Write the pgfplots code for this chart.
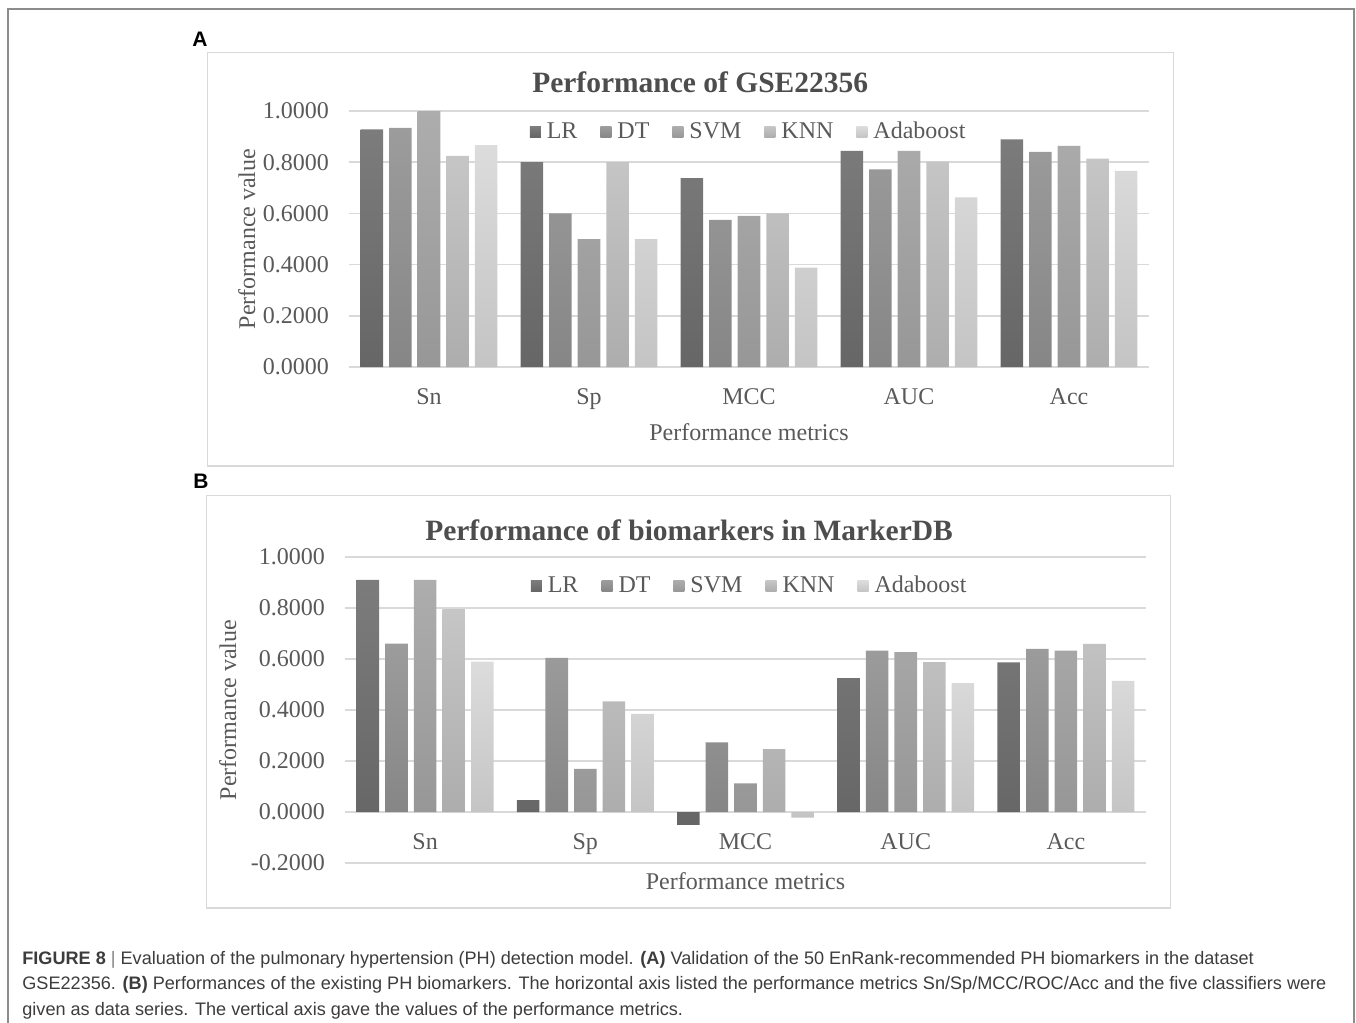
\documentclass[border=0pt]{standalone}
\usepackage{pgfplots}
\pgfplotsset{compat=1.18}
\usepackage{pgfplotstable}
\usepackage{fontspec}
\setmainfont{Liberation Serif}
\newfontfamily\capfont{Liberation Sans}

\definecolor{txt}{HTML}{595959}
\definecolor{ttl}{HTML}{4D4D4D}
\definecolor{grd}{HTML}{D9D9D9}
\definecolor{lrT}{HTML}{7C7C7C}\definecolor{lrB}{HTML}{666666}
\definecolor{dtT}{HTML}{9C9C9C}\definecolor{dtB}{HTML}{868686}
\definecolor{svT}{HTML}{ADADAD}\definecolor{svB}{HTML}{979797}
\definecolor{knT}{HTML}{C6C6C6}\definecolor{knB}{HTML}{ADADAD}
\definecolor{adT}{HTML}{DCDCDC}\definecolor{adB}{HTML}{C4C4C4}

\pgfplotstableread{
x LR DT SVM KNN Ada
0 0.928 0.934 1.000 0.825 0.867
1 0.800 0.600 0.500 0.800 0.500
2 0.738 0.575 0.590 0.600 0.388
3 0.844 0.772 0.844 0.802 0.663
4 0.889 0.840 0.864 0.814 0.766
}\dataA

\pgfplotstableread{
x LR DT SVM KNN Ada
0 0.910 0.660 0.910 0.796 0.590
1 0.047 0.604 0.169 0.434 0.385
2 -0.050 0.273 0.112 0.247 -0.022
3 0.525 0.633 0.627 0.588 0.505
4 0.587 0.640 0.633 0.659 0.514
}\dataB

\pgfplotsset{
  sLR/.style={draw=none, top color=lrT, bottom color=lrB},
  sDT/.style={draw=none, top color=dtT, bottom color=dtB},
  sSV/.style={draw=none, top color=svT, bottom color=svB},
  sKN/.style={draw=none, top color=knT, bottom color=knB},
  sAD/.style={draw=none, top color=adT, bottom color=adB},
  panel/.style={
    scale only axis,
    width=400bp,
    xmin=-0.5, xmax=4.5,
    xtick={0,1,2,3,4},
    xticklabels={Sn,Sp,MCC,AUC,Acc},
    axis line style={draw=none},
    tick style={draw=none},
    major tick length=0pt,
    ymajorgrids,
    grid style={grd, line width=0.75bp},
    bar width=0.141,
    tick label style={font=\fontsize{12bp}{14bp}\selectfont, text=txt},
    label style={font=\fontsize{12bp}{14bp}\selectfont, text=txt},
    title style={font=\bfseries\fontsize{14.75bp}{17bp}\selectfont, text=ttl, anchor=base},
    yticklabel style={anchor=east, xshift=-6.5bp,
      /pgf/number format/.cd, fixed, fixed zerofill, precision=4, assume math mode=true},
    xticklabel style={anchor=base},
    xlabel={Performance metrics},
    ylabel={Performance value},
    legend columns=5,
    legend style={draw=none, fill=none, inner sep=0pt, outer sep=0pt, anchor=west,
      font=\fontsize{12bp}{14bp}\selectfont, text=txt,
      nodes={inner sep=0pt, text=txt},
      /tikz/every odd column/.append style={column sep=3bp},
      /tikz/every even column/.append style={column sep=11.5bp}},
    legend image code/.code={\path[##1,draw=none] (0bp,-2.75bp) rectangle (5.5bp,2.75bp);},
  }
}

\begin{document}
\begin{tikzpicture}
\path[use as bounding box] (0,0) rectangle (678bp,-511.5bp);
% outer frame
\draw[color={rgb,255:red,140;green,140;blue,140}, line width=0.6bp]
  (4bp,-511.5bp) -- (4bp,-4.5bp) -- (677bp,-4.5bp) -- (677bp,-511.5bp);
% panel frames
\draw[grd, line width=0.75bp] (103.65bp,-26.15bp) rectangle (586.65bp,-233bp);
\draw[grd, line width=0.75bp] (103.35bp,-247.65bp) rectangle (585.35bp,-454bp);
% panel letters
\node[anchor=base west, inner sep=0pt, font=\capfont\bfseries\fontsize{10.5bp}{12bp}\selectfont] at (96bp,-23bp) {A};
\node[anchor=base west, inner sep=0pt, font=\capfont\bfseries\fontsize{10.5bp}{12bp}\selectfont] at (96.5bp,-244bp) {B};

% ---------- Panel A
\begin{axis}[panel,
  at={(174.5bp,-183.5bp)}, anchor=south west,
  height=128bp,
  ymin=0, ymax=1,
  ytick={0,0.2,0.4,0.6,0.8,1},
  xticklabel style={yshift=-18.5bp},
  xlabel style={at={(axis description cs:0.5,0)}, anchor=base, yshift=-36.5bp},
  ylabel style={at={(axis description cs:-0.1175,0.5)}, anchor=base, rotate=0},
  title={Performance of GSE22356},
  title style={at={(axis description cs:0.439,1)}, yshift=3.5bp},
  legend style={at={(axis description cs:0.226,0.918)}},
]
\addplot[ybar, sLR, bar shift=-0.357] table[x=x,y=LR] {\dataA};
\addplot[ybar, sDT, bar shift=-0.1785] table[x=x,y=DT] {\dataA};
\addplot[ybar, sSV, bar shift=0] table[x=x,y=SVM] {\dataA};
\addplot[ybar, sKN, bar shift=0.1785] table[x=x,y=KNN] {\dataA};
\addplot[ybar, sAD, bar shift=0.357] table[x=x,y=Ada] {\dataA};
\legend{LR,DT,SVM,KNN,Adaboost}
\end{axis}

% ---------- Panel B
\begin{axis}[panel,
  at={(172.5bp,-431.5bp)}, anchor=south west,
  width=400.5bp,
  height=153bp,
  ymin=-0.2, ymax=1,
  ytick={-0.2,0,0.2,0.4,0.6,0.8,1},
  xticklabel style={yshift=7bp},
  xlabel style={at={(axis description cs:0.5,0)}, anchor=base, yshift=-13bp},
  ylabel style={at={(axis description cs:-0.136,0.5)}, anchor=base, rotate=0},
  title={Performance of biomarkers in MarkerDB},
  title style={at={(axis description cs:0.4295,1)}, yshift=2.5bp},
  legend style={at={(axis description cs:0.232,0.905)}},
]
\addplot[ybar, sLR, bar shift=-0.357] table[x=x,y=LR] {\dataB};
\addplot[ybar, sDT, bar shift=-0.1785] table[x=x,y=DT] {\dataB};
\addplot[ybar, sSV, bar shift=0] table[x=x,y=SVM] {\dataB};
\addplot[ybar, sKN, bar shift=0.1785] table[x=x,y=KNN] {\dataB};
\addplot[ybar, sAD, bar shift=0.357] table[x=x,y=Ada] {\dataB};
\legend{LR,DT,SVM,KNN,Adaboost}
\end{axis}

% caption
\begin{scope}[every node/.style={anchor=base west, inner sep=0pt, text={rgb,255:red,60;green,60;blue,60},
    font=\capfont\fontsize{9.05bp}{10bp}\selectfont}]
\node at (11bp,-482bp) {\textbf{FIGURE 8} {\color{gray}|} Evaluation of the pulmonary hypertension (PH) detection model. \textbf{(A)} Validation of the 50 EnRank-recommended PH biomarkers in the dataset};
\node at (11bp,-494.75bp) {GSE22356. \textbf{(B)} Performances of the existing PH biomarkers. The horizontal axis listed the performance metrics Sn/Sp/MCC/ROC/Acc and the five classifiers were};
\node at (11bp,-507.5bp) {given as data series. The vertical axis gave the values of the performance metrics.};
\end{scope}
\end{tikzpicture}
\end{document}
